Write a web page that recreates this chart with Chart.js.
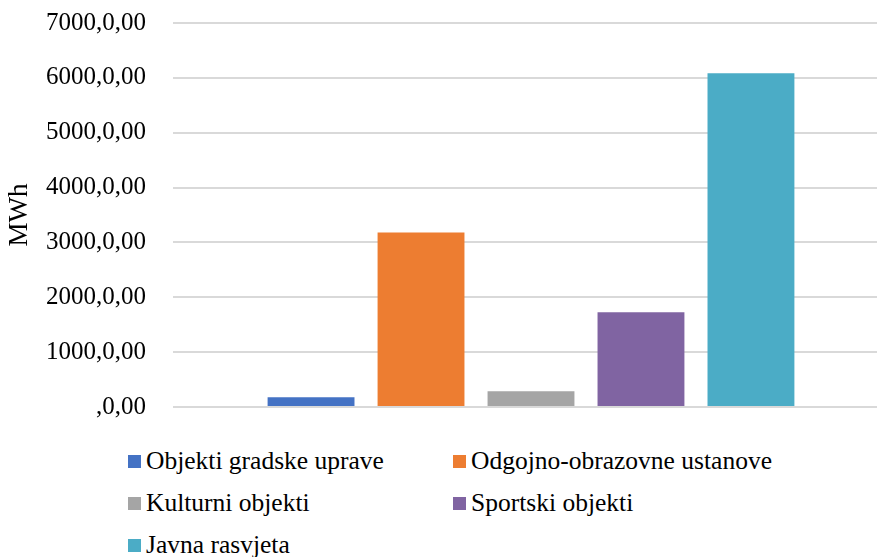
<!DOCTYPE html>
<html>
<head>
    <meta charset="UTF-8">
    <script src="https://cdn.jsdelivr.net/npm/chart.js@4.4.1/dist/chart.umd.min.js"></script>
    <style>
        html, body {
            margin: 0;
            padding: 0;
            background: #fff;
            overflow: hidden;
        }
        .wrap {
            position: relative;
            width: 877px;
            height: 557px;
            overflow: hidden;
        }
        #chart {
            position: absolute;
            left: 0;
            top: 0;
        }
        .legend {
            position: absolute;
            left: 0;
            top: 0;
            font-family: "Liberation Serif", serif;
            font-size: 25.5px;
            color: #000;
        }
        .legend .item {
            position: absolute;
            white-space: nowrap;
            display: flex;
            align-items: center;
            height: 30px;
        }
        .legend .box {
            width: 13px;
            height: 13px;
            margin-right: 5px;
        }
    </style>
</head>
<body>

<div class="wrap">
    <canvas id="chart" width="889" height="420"></canvas>
    <div class="legend" id="legend"></div>
</div>

<script>
// data
var categories = [''];
var seriesNames = [
    'Objekti gradske uprave',
    'Odgojno-obrazovne ustanove',
    'Kulturni objekti',
    'Sportski objekti',
    'Javna rasvjeta'
];
var seriesValues = [180, 3182, 288, 1726, 6085];
var seriesColors = ['#4472C4', '#ED7D31', '#A5A5A5', '#8064A2', '#4BACC6'];
var yTicks = [0, 1000, 2000, 3000, 4000, 5000, 6000, 7000];

var datasets = seriesNames.map(function (name, i) {
    return {
        label: name,
        data: [seriesValues[i]],
        backgroundColor: seriesColors[i],
        barPercentage: 0.79,
        categoryPercentage: 0.768
    };
});

var chart = new Chart(document.getElementById('chart'), {
    type: 'bar',
    data: { labels: categories, datasets: datasets },
    options: {
        responsive: false,
        animation: false,
        layout: { padding: { top: 23, left: 0, right: 0, bottom: 0 } },
        plugins: {
            legend: { display: false },
            tooltip: { enabled: false }
        },
        scales: {
            x: {
                ticks: { display: false },
                grid: { display: false },
                border: { display: false },
                afterFit: function (s) { s.height = 13; }
            },
            y: {
                min: 0,
                max: 7000,
                afterBuildTicks: function (s) {
                    s.ticks = yTicks.map(function (v) { return { value: v }; });
                },
                afterFit: function (s) {
                    s.width = 173;
                    s.paddingTop = 0;
                    s.paddingBottom = 0;
                },
                ticks: {
                    padding: 27,
                    color: '#000',
                    font: { family: 'Liberation Serif', size: 25 },
                    callback: function (v) { return (v === 0 ? '' : v) + ',0,00'; }
                },
                grid: { color: '#D9D9D9', lineWidth: 2, drawTicks: false },
                border: { display: false },
                title: {
                    display: true,
                    text: 'MWh',
                    color: '#000',
                    font: { family: 'Liberation Serif', size: 27 },
                    padding: { top: 4, bottom: 0 }
                }
            }
        }
    }
});

// legend in two columns, built from the chart datasets
var legendEl = document.getElementById('legend');
var colX = [128, 453];
var rowY = [461, 503, 545];
chart.data.datasets.forEach(function (ds, i) {
    var item = document.createElement('div');
    item.className = 'item';
    item.style.left = colX[i % 2] + 'px';
    item.style.top = (rowY[Math.floor(i / 2)] - 15) + 'px';
    var box = document.createElement('span');
    box.className = 'box';
    box.style.background = ds.backgroundColor;
    var txt = document.createElement('span');
    txt.textContent = ds.label;
    item.appendChild(box);
    item.appendChild(txt);
    legendEl.appendChild(item);
});
</script>

</body>
</html>
